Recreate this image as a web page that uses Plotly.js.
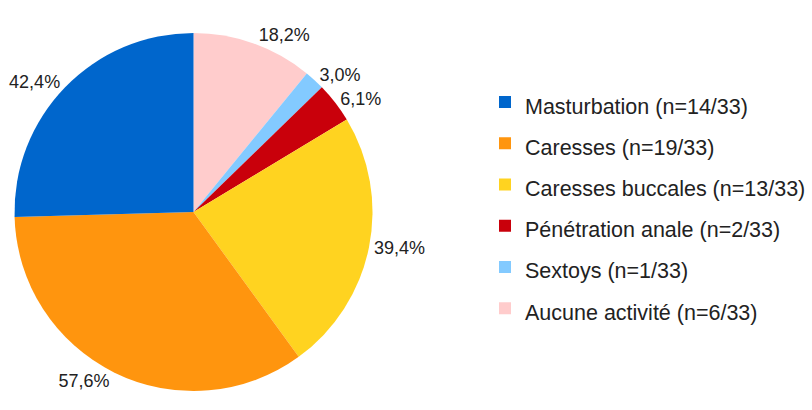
<!DOCTYPE html>
<html>
<head>
<meta charset="utf-8">
<script src="https://cdn.plot.ly/plotly-3.0.1.min.js"></script>
<style>
  html, body { margin: 0; padding: 0; background: #fff; }
  #chart { width: 812px; height: 410px; }
</style>
</head>
<body>
<div id="chart"></div>
<script>
// Data
const categories = ["Masturbation", "Caresses", "Caresses buccales", "Pénétration anale", "Sextoys", "Aucune activité"];
const counts = [14, 19, 13, 2, 1, 6];
const total = 33;
const colors = ["#0066CC", "#FF950E", "#FFD320", "#C9000B", "#83CAFF", "#FFCCCC"];

const legendLabels = categories.map((c, i) => `<span style="font-size:21.5px">${c} (n=${counts[i]}/${total})</span>`);
const pctLabels = counts.map(n => (n / total * 100).toFixed(1).replace('.', ',') + '%');

// Slices run counterclockwise from 12 o'clock in the reference: feed them
// reversed with a clockwise direction, and reverse the legend back.
const rev = a => a.slice().reverse();

const W = 812, H = 410;
const cx = 193.5, cy = 212, r = 179;

const data = [{
  type: 'pie',
  labels: rev(legendLabels),
  values: rev(counts),
  text: rev(pctLabels),
  texttemplate: '%{text}',
  textinfo: 'text',
  textposition: 'outside',
  outsidetextfont: { family: 'Liberation Sans, Arial, sans-serif', size: 18, color: '#222222' },
  marker: { colors: rev(colors), line: { width: 0 } },
  sort: false,
  direction: 'clockwise',
  rotation: 0,
  hole: 0,
  automargin: false,
  domain: {
    x: [(cx - r) / W, (cx + r) / W],
    y: [(H - cy - r) / H, (H - cy + r) / H]
  },
  hoverinfo: 'none'
}];

const layout = {
  width: W, height: H,
  margin: { l: 0, r: 0, t: 0, b: 0, pad: 0 },
  paper_bgcolor: '#ffffff',
  showlegend: true,
  legend: {
    x: 485 / W, xanchor: 'left',
    y: 1 - 76.5 / H, yanchor: 'top',
    font: { family: 'Liberation Sans, Arial, sans-serif', size: 29.4, color: '#222222' },
    bgcolor: 'rgba(0,0,0,0)',
    borderwidth: 0,
    traceorder: 'reversed'
  },
  font: { family: 'Liberation Sans, Arial, sans-serif', color: '#222222' }
};

Plotly.newPlot('chart', data, layout, { staticPlot: true, displayModeBar: false });
</script>
</body>
</html>
